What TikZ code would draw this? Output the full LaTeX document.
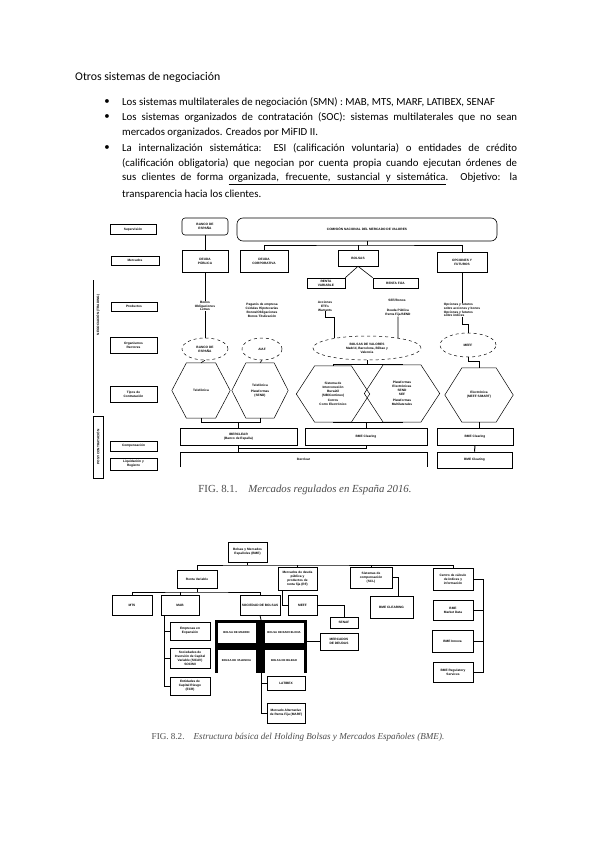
\documentclass[tikz,border=0pt]{standalone}
\usepackage{fontspec}
\setmainfont{Carlito}
\newfontfamily\capfont{Liberation Serif}
\newfontfamily\figfont{Liberation Sans}
\usetikzlibrary{shapes.geometric,calc}

\definecolor{capgray}{gray}{0.3}
\newcommand{\fsmall}{\figfont\bfseries\fontsize{3.2}{3.9}\selectfont}

\tikzset{
  txt/.style={anchor=west, inner sep=0pt, font=\fontsize{10.8}{13}\selectfont},
  lbl/.style={draw, line width=0.6pt, inner sep=0pt, align=center, font=\fsmall},
  mkt/.style={draw, line width=0.6pt, inner sep=0pt, align=center, font=\fsmall},
  prod/.style={inner sep=0pt, align=center, font=\fsmall},
  org/.style={ellipse, draw, dashed, line width=0.5pt, inner sep=0pt, align=center, font=\fsmall},
  hexa/.style={inner sep=0pt, align=center, font=\fsmall},
  bmebox/.style={draw, line width=0.8pt, inner sep=0pt, align=center, font=\fsmall},
  figcap/.style={inner sep=0pt, text=capgray, font=\capfont\fontsize{10.8}{12}\selectfont},
}

\begin{document}
\begin{tikzpicture}[x=1pt,y=-1pt]
\fill[white] (0,0) rectangle (599,848);
\useasboundingbox (0,0) rectangle (599,848);

% text of the page
\node[txt, font=\fontsize{11.8}{13}\selectfont] (ttl) at (75,77) {Otros sistemas de negociación};
\foreach \y/\n in {102/p1,117/p2,148/p3}{
  \node[font=\fontsize{10.8}{13}\selectfont, inner sep=0pt] (\n) at (107,\y) {\textbullet};
}
\node[txt] (l1) at (122,102) {Los sistemas multilaterales de negociación (SMN) : MAB, MTS, MARF, LATIBEX, SENAF};
\node[txt] (l2) at (122,117) {\makebox[395pt][s]{Los sistemas organizados de contratación (SOC): sistemas multilaterales que no sean}};
\node[txt] (l3) at (122,132.5) {mercados organizados. Creados por MiFID II.};
\node[txt] (l4) at (122,148) {\makebox[395pt][s]{La internalización sistemática: ESI (calificación voluntaria) o entidades de crédito}};
\node[txt] (l5) at (122,163.5) {\makebox[395pt][s]{(calificación obligatoria) que negocian por cuenta propia cuando ejecutan órdenes de}};
\node[txt] (l6) at (122,179) {\makebox[395pt][s]{sus clientes de forma \underline{\makebox[217pt][s]{organizada, frecuente, sustancial y sistemática}}. Objetivo: la}};
\node[txt] (l7) at (122,194.5) {transparencia hacia los clientes.};

% figure 8.1: left labels
\node[lbl, minimum width=46, minimum height=10] (s1) at (133,229.5) {Supervisión};
\node[lbl, minimum width=48, minimum height=9] (s2) at (135,260.5) {Mercados};
\node[lbl, minimum width=46, minimum height=9] (s3) at (134,306.5) {Productos};
\node[lbl, minimum width=47, minimum height=16] (s4) at (133.5,345) {Organismos\\Rectores};
\node[lbl, minimum width=47, minimum height=16] (s5) at (133.5,394) {Tipos de\\Contratación};
\node[lbl, minimum width=47, minimum height=10] (s6) at (133.5,446) {Compensación};
\node[lbl, minimum width=47, minimum height=12] (s7) at (133.5,464) {Liquidación y\\Registro};
\draw[line width=0.6pt] (93,280) -- (93,413);
\node[prod, rotate=90] (neg) at (98,315) {NEGOCIACIÓN (TRADING)};
\node[lbl, rotate=90, minimum width=62, minimum height=10] (post) at (98,447) {POST-CONTRATACIÓN};

% supervisors and markets
\node[mkt, rounded corners=3, minimum width=46, minimum height=17] (bde) at (205,226.5) {BANCO DE\\ESPAÑA};
\node[mkt, rounded corners=6, minimum width=260, minimum height=23] (cnmv) at (367,229.5) {COMISIÓN NACIONAL DEL MERCADO DE VALORES};
\node[mkt, minimum width=46, minimum height=22] (dp) at (205,261) {DEUDA\\PÚBLICA};
\node[mkt, minimum width=48, minimum height=22] (dc) at (264,261) {DEUDA\\CORPORATIVA};
\node[mkt, minimum width=40, minimum height=16] (bol) at (358,258) {BOLSAS};
\node[mkt, minimum width=50, minimum height=20] (of) at (462,262) {OPCIONES Y\\FUTUROS};
\node[mkt, minimum width=38, minimum height=10] (rv) at (326,283) {RENTA\\VARIABLE};
\node[mkt, minimum width=45, minimum height=10] (rf) at (395.5,283) {RENTA FIJA};

% products
\node[prod] (pdp) at (205,306) {Bonos\\Obligaciones\\Letras};
\node[prod] (pdc) at (262,310) {Pagarés de empresa\\Cédulas Hipotecarias\\Bonos/Obligaciones\\Bonos Titulización};
\node[prod] (prv) at (325,306) {Acciones\\ETFs\\Warrants};
\node[prod] (prf1) at (397,300) {SEF/Bonos};
\node[prod] (prf2) at (398,313) {Deuda Pública\\Renta Fija/SEND};
\node[prod, align=left] (pof) at (462,310) {Opciones y futuros\\sobre acciones y bonos\\Opciones y futuros\\sobre índices};

% governing bodies
\node[org, minimum width=46, minimum height=22] (e1) at (205,349) {BANCO DE\\ESPAÑA};
\node[org, minimum width=40, minimum height=22] (e2) at (262,349) {AIAF};
\node[org, minimum width=108, minimum height=24] (e3) at (367,348) {BOLSAS DE VALORES\\Madrid, Barcelona, Bilbao y\\Valencia};
\node[org, minimum width=56, minimum height=24] (e4) at (468,345) {MEFF};

% types of trading
\node[hexa, minimum width=58, minimum height=55] (h1) at (201,390.5) {Telefónica};
\node[hexa, minimum width=56, minimum height=55] (h2) at (260,390.5) {Telefónica\\[2pt]Plataformas\\(SEND)};
\node[hexa, minimum width=73, minimum height=56] (h3) at (333,394) {Sistema de\\Interconexión\\Bursátil\\(SIB/Continuo)\\[2pt]Corros\\Corro Electrónico};
\node[hexa, minimum width=75, minimum height=57] (h4) at (402,393.5) {Plataformas\\Electrónicas\\SEND\\SEF\\[2pt]Plataformas\\Multilaterales};
\node[hexa, minimum width=68, minimum height=54] (h5) at (479,395) {Electrónica\\(MEFF S/MART)};
\foreach \h in {h1,h2,h3,h4,h5}{
  \draw[line width=0.5pt] (\h.west) -- ($(\h.north west)!.25!(\h.north east)$) -- ($(\h.north west)!.75!(\h.north east)$)
    -- (\h.east) -- ($(\h.south west)!.75!(\h.south east)$) -- ($(\h.south west)!.25!(\h.south east)$) -- cycle;
}

% clearing and settlement
\node[mkt, minimum width=117, minimum height=17] (ibc) at (238.5,436.5) {IBERCLEAR\\(Banco de España)};
\node[mkt, minimum width=122, minimum height=17] (bme1) at (366,436.5) {BME Clearing};
\node[mkt, minimum width=76, minimum height=17] (bme2) at (475,436.5) {BME Clearing};
\node[prod, minimum width=247, minimum height=15] (liq) at (303.5,459.5) {Iberclear};
\draw[line width=0.6pt] (liq.south west) |- (liq.north east) -- (liq.south east);
\node[mkt, minimum width=75, minimum height=16] (liq2) at (474.5,460) {BME Clearing};

% connectors of figure 8.1
\draw[line width=0.6pt] (bde.south) -- (dp.north);
\coordinate (bar) at (367,245);
\draw[line width=0.6pt] (cnmv.south) -- (bar);
\draw[line width=0.6pt] (dc.north) |- (bar) -| (of.north);
\draw[line width=0.6pt] (bol.north) -- (bol.north |- bar);
\draw[line width=0.6pt] (rv.north east) -- (bol.south) -- (rf.north west);
\draw[line width=0.6pt] (dp.south) -- (pdp.north);
\draw[line width=0.6pt] (pdp.south) -- (e1.north);
\draw[line width=0.6pt] (prv.south) -- ++(0,6) -| (e3.163);
\draw[line width=0.6pt] (prf2.south) -- (e3.18);
\draw[line width=0.6pt] (of.south) -- (of.south |- pof.north);
\draw[line width=0.6pt] (of.south |- pof.south) -- ++(0,7) -| (e4.north);
\draw[line width=0.6pt] (e1.south) -- (h1.north);
\draw[line width=0.6pt] (e2.south) -- (h2.north);
\draw[line width=0.6pt] (e3.south) -- ++(0,4) coordinate (b34);
\draw[line width=0.6pt] (h3.north) |- (b34) -| (h4.north);
\draw[line width=0.6pt] (e4.south) -- ++(0,4) -| (h5.north);
\coordinate (b12) at ($(ibc.north)+(0,-5)$);
\draw[line width=0.6pt] (h1.south) |- (b12) -| (h2.south);
\draw[line width=0.6pt] (b12) -- (ibc.north);
\coordinate (c34) at ($(bme1.north)+(0,-5)$);
\draw[line width=0.6pt] (h3.south) |- (c34) -| (h4.south);
\draw[line width=0.6pt] (c34) -- (bme1.north);
\draw[line width=0.6pt] (h5.south) -- (h5.south |- bme2.north);
\draw[line width=0.6pt] (ibc.south) -- (ibc.south |- liq.north);
\draw[line width=0.6pt] (bme1.south) -- ++(0,3) -| (ibc.south |- liq.north);
\draw[line width=1pt] (bme2.south) -- (liq2.north);

\node[figcap] (cap1) at (305,490) {FIG. 8.1.\quad\textit{Mercados regulados en España 2016.}};

% figure 8.2: BME holding
\node[bmebox, minimum width=39, minimum height=20] (bme) at (247.5,552) {Bolsas y Mercados\\Españoles (BME)};
\node[bmebox, minimum width=40, minimum height=18] (a1) at (197,579) {Renta Variable};
\node[bmebox, minimum width=39, minimum height=23] (a2) at (297.5,578.5) {Mercados de deuda\\pública y\\productos de\\renta fija (RF)};
\node[bmebox, minimum width=42, minimum height=21] (a3) at (371,577.5) {Sistemas de\\compensación\\(SCL)};
\node[bmebox, minimum width=40, minimum height=22] (a4) at (453,579) {Centro de cálculo\\de índices y\\información};
\coordinate (top) at (247.5,565);
\draw[line width=0.8pt] (bme.south) -- (top);
\draw[line width=0.8pt] (a1.north) |- (top) -| (a4.north);
\draw[line width=0.8pt] (a2.north) -- (a2.north |- top);
\draw[line width=0.8pt] (a3.north) -- (a3.north |- top);

\node[bmebox, minimum width=40, minimum height=20] (b1) at (132,605) {MTS};
\node[bmebox, minimum width=38, minimum height=20] (b2) at (180,605) {MAB};
\node[bmebox, minimum width=40, minimum height=20] (b3) at (260,605) {SOCIEDAD DE BOLSAS};
\coordinate (mid) at (197,592);
\draw[line width=0.8pt] (a1.south) -- (mid);
\draw[line width=0.8pt] (b1.north) |- (mid) -| (b3.north);
\draw[line width=0.8pt] (b2.north) -- (b2.north |- mid);

\node[bmebox, minimum width=29, minimum height=20] (b4) at (302.5,605) {MEFF};
\node[bmebox, minimum width=28, minimum height=11] (b5) at (344,622.5) {SENAF};
\node[bmebox, minimum width=38, minimum height=17] (b6) at (339,641.5) {MERCADOS\\DE DEUDAS};
\draw[line width=0.8pt] ([xshift=5pt]a2.south west) |- (b4.west);
\draw[line width=0.8pt] (b4.east) -| (b5.north);

% the four stock exchanges
\node[fill=black, minimum width=92, minimum height=53, inner sep=0pt] (grid) at (261,646.5) {};
\node[bmebox, fill=white, draw=white, minimum width=37, minimum height=19, font=\figfont\bfseries\fontsize{2.8}{3.4}\selectfont] (g1) at (236.5,632.5) {BOLSA DE MADRID};
\node[bmebox, fill=white, draw=white, minimum width=38, minimum height=19, font=\figfont\bfseries\fontsize{2.8}{3.4}\selectfont] (g2) at (284,632.5) {BOLSA DE BARCELONA};
\node[bmebox, fill=white, draw=white, minimum width=37, minimum height=22, font=\figfont\bfseries\fontsize{2.8}{3.4}\selectfont] (g3) at (236.5,661) {BOLSA DE VALENCIA};
\node[bmebox, fill=white, draw=white, minimum width=38, minimum height=22, font=\figfont\bfseries\fontsize{2.8}{3.4}\selectfont] (g4) at (284,661) {BOLSA DE BILBAO};
\draw[line width=0.8pt] (b3.south) -- (grid.north);
\draw[line width=0.8pt] (grid.east |- b6.west) -- (b6.west);

\node[bmebox, minimum width=38, minimum height=14] (c1) at (286,683) {LATIBEX};
\node[bmebox, minimum width=38, minimum height=20] (c2) at (286,713) {Mercado Alternativo\\de Renta Fija (MARF)};
\draw[line width=0.8pt] (grid.south) |- (c2.west);
\draw[line width=0.8pt] (grid.south |- c1.west) -- (c1.west);

\node[bmebox, minimum width=40, minimum height=18] (d1) at (190,631) {Empresas en\\Expansión};
\node[bmebox, minimum width=40, minimum height=20] (d2) at (190,658) {Sociedades de\\Inversión de Capital\\Variable (SICAV)\\SOCIMI};
\node[bmebox, minimum width=40, minimum height=18] (d3) at (190,686) {Entidades de\\Capital Riesgo\\(ECR)};
\draw[line width=0.8pt] ([xshift=4pt]b2.south west) |- (d3.west);
\draw[line width=0.8pt] ([xshift=4pt]b2.south west |- d1.west) -- (d1.west);
\draw[line width=0.8pt] ([xshift=4pt]b2.south west |- d2.west) -- (d2.west);

\node[bmebox, minimum width=43, minimum height=22] (e5) at (391.5,607) {BME CLEARING};
\draw[line width=0.8pt] (a3.east) -| ([xshift=7pt]e5.north);

\node[bmebox, minimum width=40, minimum height=20] (r1) at (453,610) {BME\\Market Data};
\node[bmebox, minimum width=41, minimum height=22] (r2) at (452.5,641) {BME Innova};
\node[bmebox, minimum width=40, minimum height=20] (r3) at (453,672) {BME Regulatory\\Services};
\coordinate (rb) at (483,579);
\draw[line width=0.8pt] (a4.east) -- (rb) |- (r3.east);
\draw[line width=0.8pt] (r1.east) -- (rb |- r1.east);
\draw[line width=0.8pt] (r2.east) -- (rb |- r2.east);

\node[figcap, font=\capfont\fontsize{9.1}{10}\selectfont] (cap2) at (298,737) {FIG. 8.2.\quad\textit{Estructura básica del Holding Bolsas y Mercados Españoles (BME).}};
\end{tikzpicture}
\end{document}
